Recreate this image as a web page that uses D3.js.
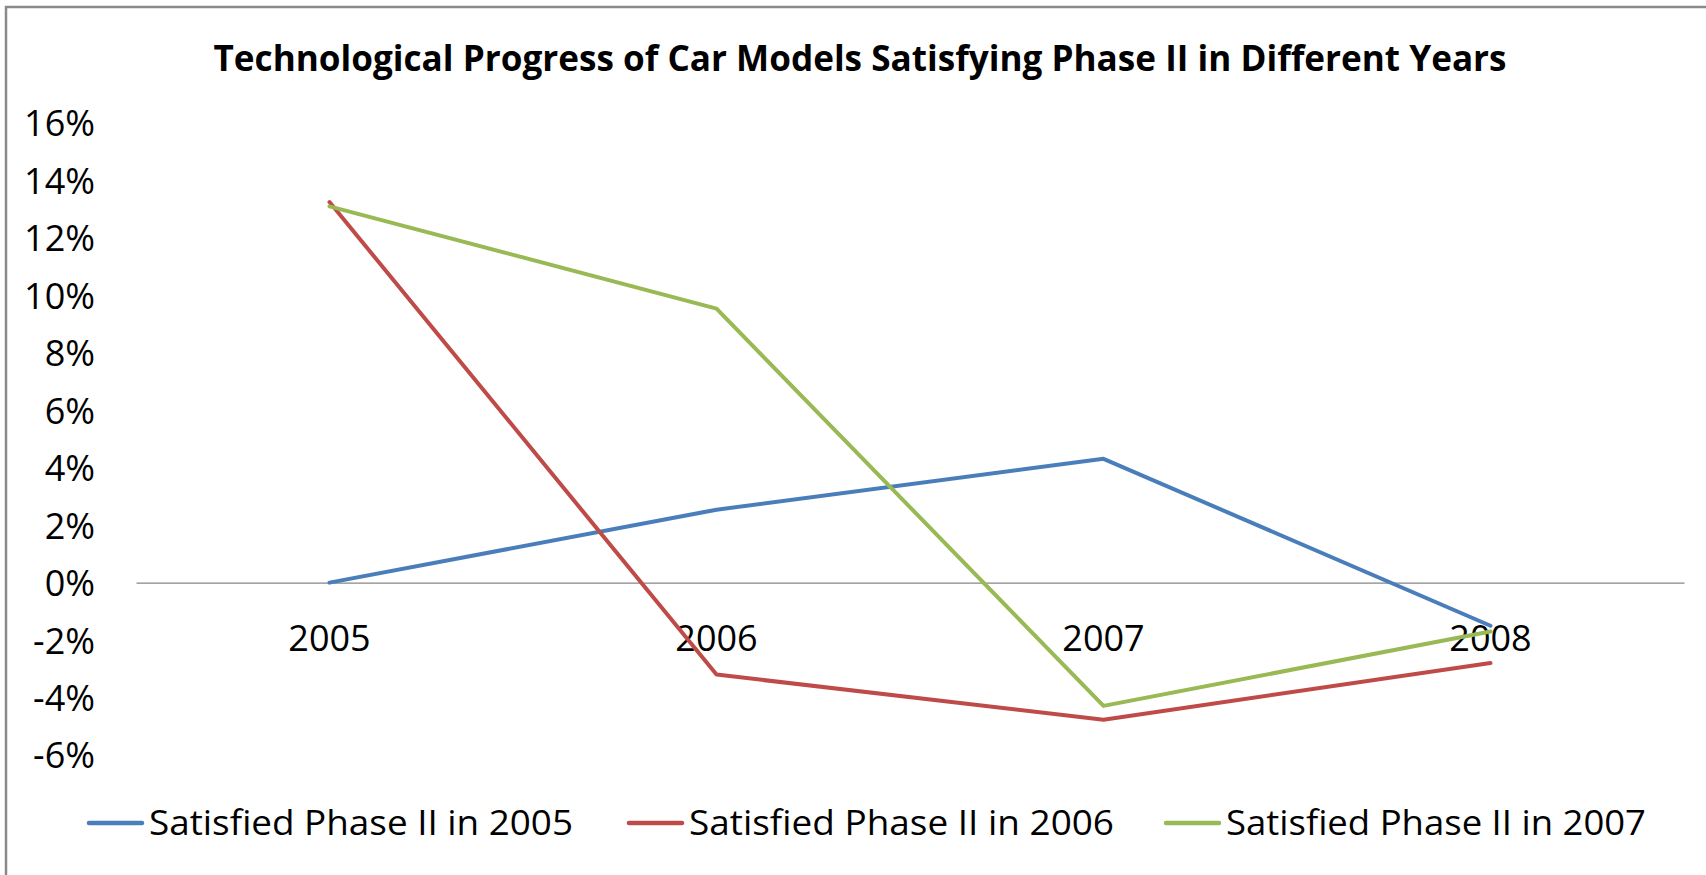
<!DOCTYPE html>
<html lang="en">

<head>
    <meta charset="UTF-8">
    <title>Technological Progress of Car Models</title>
    <script src="https://d3js.org/d3.v7.min.js"></script>
    <style>
        body {
            margin: 0;
            background: #fff;
            overflow: hidden;
        }

        svg {
            display: block;
        }

        text {
            font-family: "Open Sans", sans-serif;
            fill: #000;
        }

        .series {
            fill: none;
            stroke-width: 4px;
            stroke-linejoin: round;
            stroke-linecap: round;
        }
    </style>
</head>

<body>
    <script>
        // chart data
        var years = ["2005", "2006", "2007", "2008"];
        var seriesNames = ["Satisfied Phase II in 2005", "Satisfied Phase II in 2006", "Satisfied Phase II in 2007"];
        var phase2005 = [0, 2.54, 4.31, -1.5];
        var phase2006 = [13.25, -3.2, -4.77, -2.8];
        var phase2007 = [13.1, 9.54, -4.29, -1.7];
        var yTicks = [-6, -4, -2, 0, 2, 4, 6, 8, 10, 12, 14, 16];
        var colors = ["#4a7ebb", "#be4b48", "#98b954"];

        var allSeries = [phase2005, phase2006, phase2007];

        var width = 1706, height = 875;

        var svg = d3.select("body")
            .append("svg")
            .attr("width", width)
            .attr("height", height);

        // chart frame (only top and left edges are in view)
        svg.append("rect")
            .attr("x", 6)
            .attr("y", 7)
            .attr("width", width + 20)
            .attr("height", height + 20)
            .attr("fill", "#fff")
            .attr("stroke", "#8a8a8a")
            .attr("stroke-width", 2.5);

        svg.append("text")
            .attr("x", 860)
            .attr("y", 71)
            .attr("text-anchor", "middle")
            .style("font-weight", "bold")
            .style("font-size", "35px")
            .attr("textLength", 1293)
            .attr("lengthAdjust", "spacingAndGlyphs")
            .text("Technological Progress of Car Models Satisfying Phase II in Different Years");

        // scales
        var x = d3.scaleBand()
            .domain(years)
            .range([136, 1684]);

        var y = d3.scaleLinear()
            .domain([-6, 16])
            .range([755, 123]);

        // y axis labels (no axis line in the original)
        var yAxis = d3.axisLeft(y)
            .tickValues(yTicks)
            .tickSize(0)
            .tickPadding(0)
            .tickFormat(function (d) { return d + "%"; });

        var gy = svg.append("g")
            .attr("transform", "translate(95,0)")
            .call(yAxis);
        gy.select(".domain").remove();
        gy.selectAll("text")
            .style("font-family", "'Open Sans', sans-serif")
            .style("font-size", "36px")
            .attr("dy", "0.36em");

        // category axis sits on the zero line
        var xAxis = d3.axisBottom(x)
            .tickSize(0)
            .tickPadding(0);

        var gx = svg.append("g")
            .attr("transform", "translate(0," + y(0) + ")")
            .call(xAxis);
        gx.select(".domain")
            .attr("stroke", "#868686")
            .attr("stroke-width", 1.2);
        gx.selectAll("text")
            .style("font-family", "'Open Sans', sans-serif")
            .style("font-size", "36px")
            .attr("y", 68)
            .attr("dy", 0);

        // lines
        var line = d3.line()
            .x(function (d, i) { return x(years[i]) + x.bandwidth() / 2; })
            .y(function (d) { return y(d); });

        svg.selectAll(".series")
            .data(allSeries)
            .enter()
            .append("path")
            .attr("class", "series")
            .attr("stroke", function (d, i) { return colors[i]; })
            .attr("d", line);

        // legend
        var legendX = [89, 629, 1166];
        var legendTextW = [424, 425, 420];

        var legend = svg.selectAll(".legend")
            .data(seriesNames)
            .enter()
            .append("g")
            .attr("class", "legend")
            .attr("transform", function (d, i) { return "translate(" + legendX[i] + ",823)"; });

        legend.append("line")
            .attr("x1", 0)
            .attr("x2", 53)
            .attr("stroke", function (d, i) { return colors[i]; })
            .attr("stroke-width", 4.5)
            .attr("stroke-linecap", "round");

        legend.append("text")
            .attr("x", 60)
            .attr("y", 12)
            .style("font-size", "35px")
            .attr("textLength", function (d, i) { return legendTextW[i]; })
            .attr("lengthAdjust", "spacingAndGlyphs")
            .text(function (d) { return d; });
    </script>
</body>
</html>
